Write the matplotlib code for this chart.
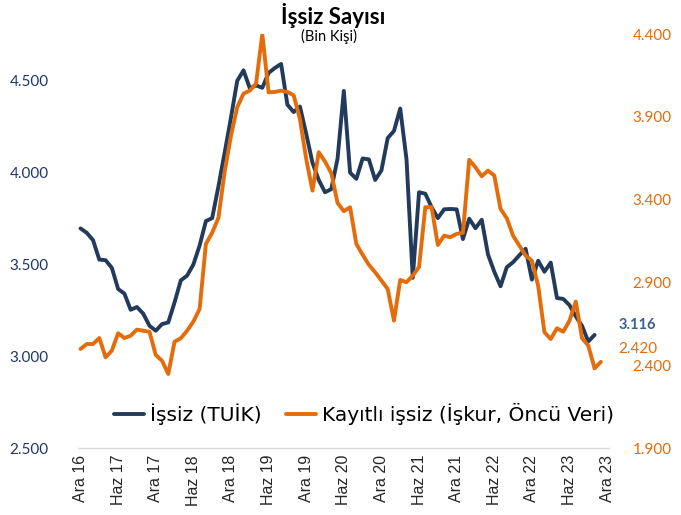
import matplotlib
matplotlib.use('Agg')
import matplotlib.pyplot as plt
from matplotlib.ticker import FuncFormatter, FixedLocator

# ---- data (thousand persons), monthly from Dec 2016 ----
tick_labels = ['Ara 16', 'Haz 17', 'Ara 17', 'Haz 18', 'Ara 18', 'Haz 19', 'Ara 19',
               'Haz 20', 'Ara 20', 'Haz 21', 'Ara 21', 'Haz 22', 'Ara 22', 'Haz 23', 'Ara 23']
tick_step = 6

tuik = [3696, 3672, 3632, 3526, 3523, 3481, 3366, 3341, 3253, 3268, 3232, 3166,
        3139, 3175, 3184, 3293, 3413, 3439, 3499, 3603, 3736, 3752, 3925, 4110,
        4300, 4500, 4557, 4460, 4475, 4462, 4543, 4570, 4592, 4370, 4330, 4360,
        4212, 4054, 3960, 3893, 3910, 4076, 4445, 4000, 3966, 4077, 4072, 3960,
        4012, 4188, 4227, 4349, 4072, 3427, 3893, 3885, 3812, 3752, 3800, 3802,
        3800, 3638, 3749, 3697, 3743, 3554, 3460, 3381, 3485, 3512, 3550, 3585,
        3417, 3520, 3460, 3510, 3317, 3312, 3278, 3217, 3165, 3080, 3116]

iskur = [2498, 2528, 2528, 2564, 2448, 2488, 2593, 2564, 2578, 2615, 2608, 2602,
         2462, 2427, 2347, 2542, 2563, 2608, 2663, 2740, 3132, 3200, 3290, 3570,
         3786, 3958, 4040, 4058, 4100, 4400, 4048, 4050, 4058, 4050, 4030, 3887,
         3646, 3454, 3686, 3630, 3560, 3380, 3330, 3354, 3132, 3067, 3006, 2961,
         2911, 2860, 2669, 2915, 2901, 2941, 2993, 3354, 3354, 3126, 3182, 3173,
         3193, 3199, 3640, 3595, 3541, 3575, 3545, 3344, 3287, 3182, 3122, 3062,
         3031, 2880, 2599, 2558, 2623, 2602, 2669, 2784, 2563, 2518, 2381, 2420]

left_ticks = [2500, 3000, 3500, 4000, 4500]
right_ticks = [1900, 2400, 2900, 3400, 3900, 4400]

series_names = ['İşsiz (TUİK)', 'Kayıtlı işsiz (İşkur, Öncü Veri)']

NAVY = '#223B5C'
ORANGE = '#E46C0A'
LABEL_NAVY = '#1F3864'
END_NAVY = '#3A5F95'

def tr_fmt(v, pos=None):
    return f"{v:,.0f}".replace(',', '.')

fig = plt.figure(figsize=(6.81, 5.15), dpi=100)
W, H = 681, 515
ax = fig.add_axes([78 / W, 1 - 448 / H, (609 - 78) / W, (448 - 34) / H])
ax2 = ax.twinx()

x1 = list(range(len(tuik)))
x2 = list(range(len(iskur)))
l1, = ax.plot(x1, tuik, color=NAVY, lw=2.8, solid_joinstyle='round', solid_capstyle='round')
l2, = ax2.plot(x2, iskur, color=ORANGE, lw=2.8, solid_joinstyle='round', solid_capstyle='round')

ax.set_xlim(-0.4, 84.3)
ax.set_ylim(2500, 4755)
ax2.set_ylim(1900, 4400)

ax.yaxis.set_major_locator(FixedLocator(left_ticks))
ax2.yaxis.set_major_locator(FixedLocator(right_ticks))
ax.yaxis.set_major_formatter(FuncFormatter(tr_fmt))
ax2.yaxis.set_major_formatter(FuncFormatter(tr_fmt))

ax.set_xticks([i * tick_step for i in range(len(tick_labels))])
ax.set_xticklabels(tick_labels, rotation=90, fontsize=11.5, family='Liberation Sans',
                   color='#262626')

for a in (ax, ax2):
    for s in a.spines.values():
        s.set_visible(False)
ax.spines['bottom'].set_visible(True)
ax.spines['bottom'].set_color('#D9D9D9')
ax.spines['bottom'].set_linewidth(1.0)

ax.tick_params(axis='x', length=0, pad=5)
ax.tick_params(axis='y', length=0, pad=21, labelsize=11, labelcolor=LABEL_NAVY)
ax2.tick_params(axis='y', length=0, pad=17, labelsize=11, labelcolor=ORANGE)
for lab in ax.get_yticklabels() + ax2.get_yticklabels():
    lab.set_family('Lato')

# end-of-series labels
ax.annotate(tr_fmt(tuik[-1]), xy=(x1[-1], tuik[-1]), xytext=(17.3, 6.8),
            textcoords='offset points', ha='left', va='center',
            fontsize=10.5, fontweight='bold', color=END_NAVY, family='Lato')
ax2.annotate(tr_fmt(iskur[-1]), xy=(x2[-1], iskur[-1]), xytext=(12.3, 9.5),
             textcoords='offset points', ha='left', va='center',
             fontsize=11, color=ORANGE, family='Lato', annotation_clip=False)

# title
fig.text(333 / W, 1 - 16 / H, 'İşsiz Sayısı', ha='center', va='center',
         fontsize=16, fontweight='bold', family='Lato', color='black')
fig.text(329 / W, 1 - 36 / H, '(Bin Kişi)', ha='center', va='center',
         fontsize=10.5, family='Lato', color='black')

leg = fig.legend([l1, l2], series_names, loc='center left',
                 bbox_to_anchor=(100 / W, 1 - 414 / H), ncol=2, frameon=False,
                 prop={'family': 'DejaVu Sans', 'size': 14.5},
                 handlelength=1.5, handletextpad=0.3, columnspacing=1.2,
                 borderpad=0.2)

fig.savefig('out.png', dpi=100)
